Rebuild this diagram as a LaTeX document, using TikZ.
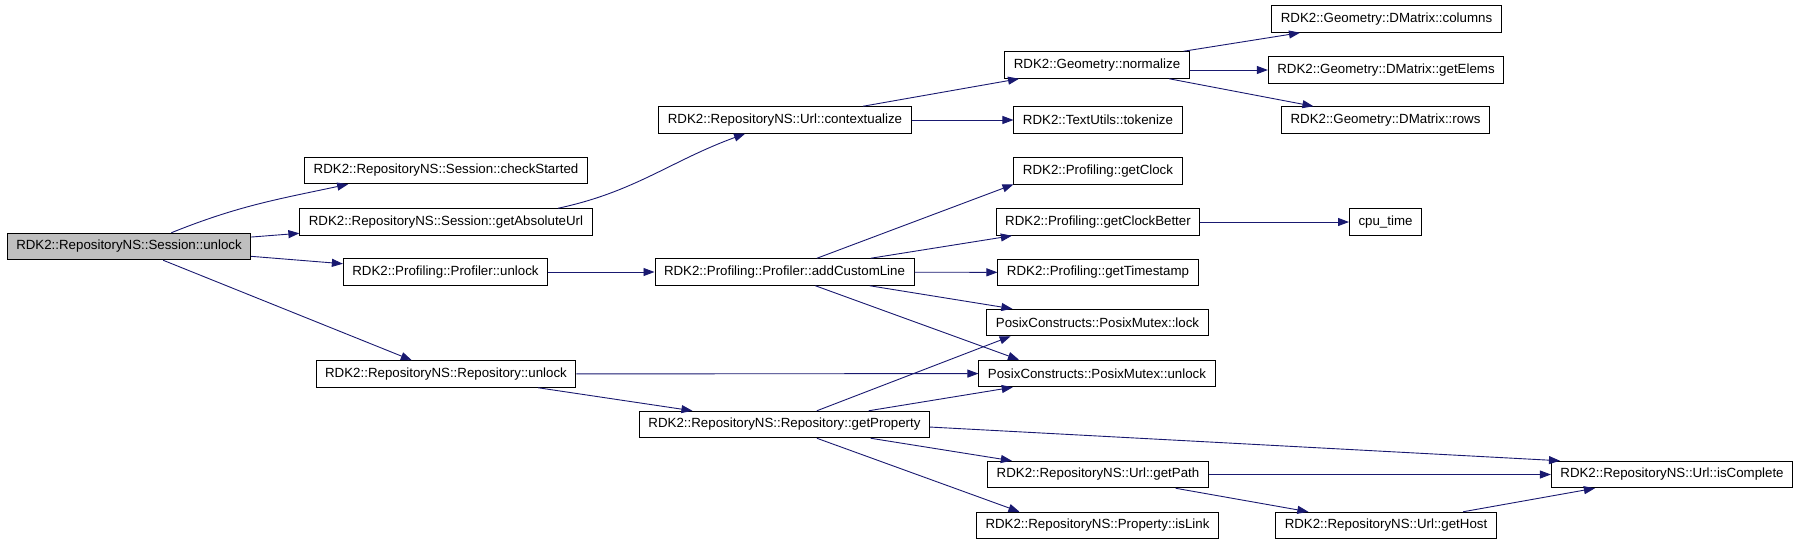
\documentclass[tikz,border=0pt]{standalone}
\usepackage{fontspec}
\setmainfont{Liberation Sans}
\usetikzlibrary{arrows.meta}

\definecolor{edgeblue}{RGB}{25,25,112}
\definecolor{nodegrey}{RGB}{191,191,191}

\tikzset{
    fn/.style={draw=black, line width=1pt, rectangle, inner xsep=9pt,
        minimum height=26.5pt, font=\fontsize{13.3}{16}\selectfont},
    call/.style={draw=edgeblue, line width=0.9pt,
        -{Triangle[length=11pt,width=8pt]}}
}

\begin{document}
\begin{tikzpicture}[x=1pt, y=1pt]

\useasboundingbox (0,0) rectangle (1797,-544);

% === caller ===
\node[fn, fill=nodegrey] (sessUnlock) at (129,-246.5) {RDK2::RepositoryNS::Session::unlock};

% === first level ===
\node[fn] (checkStarted) at (446,-170.5) {RDK2::RepositoryNS::Session::checkStarted};
\node[fn] (getAbsUrl) at (446,-222) {RDK2::RepositoryNS::Session::getAbsoluteUrl};
\node[fn] (profUnlock) at (445.5,-272) {RDK2::Profiling::Profiler::unlock};
\node[fn] (repoUnlock) at (446,-374) {RDK2::RepositoryNS::Repository::unlock};

% === second level ===
\node[fn] (contextualize) at (785,-120) {RDK2::RepositoryNS::Url::contextualize};
\node[fn] (addCustomLine) at (784.5,-272) {RDK2::Profiling::Profiler::addCustomLine};
\node[fn] (getProperty) at (784.5,-424.5) {RDK2::RepositoryNS::Repository::getProperty};

% === third level ===
\node[fn] (normalize) at (1097,-65) {RDK2::Geometry::normalize};
\node[fn] (tokenize) at (1098,-120) {RDK2::TextUtils::tokenize};
\node[fn] (getClock) at (1098,-171) {RDK2::Profiling::getClock};
\node[fn] (getClockBetter) at (1098,-222) {RDK2::Profiling::getClockBetter};
\node[fn] (getTimestamp) at (1098,-272.5) {RDK2::Profiling::getTimestamp};
\node[fn] (mutexLock) at (1097.5,-322.5) {PosixConstructs::PosixMutex::lock};
\node[fn] (mutexUnlock) at (1097,-373.5) {PosixConstructs::PosixMutex::unlock};
\node[fn] (getPath) at (1098,-474.5) {RDK2::RepositoryNS::Url::getPath};
\node[fn] (isLink) at (1097.5,-525.5) {RDK2::RepositoryNS::Property::isLink};

% === fourth level ===
\node[fn] (dmColumns) at (1386.5,-19) {RDK2::Geometry::DMatrix::columns};
\node[fn] (dmGetElems) at (1386,-70) {RDK2::Geometry::DMatrix::getElems};
\node[fn] (dmRows) at (1385.5,-120) {RDK2::Geometry::DMatrix::rows};
\node[fn] (cpuTime) at (1385.5,-222) {cpu\_time};
\node[fn] (getHost) at (1386,-525.5) {RDK2::RepositoryNS::Url::getHost};

% === fifth level ===
\node[fn] (isComplete) at (1672,-474.5) {RDK2::RepositoryNS::Url::isComplete};

% calls from the caller
\draw[call] (sessUnlock.18) to[out=22,in=192] (checkStarted.188.6);
\draw[call] (sessUnlock) -- (getAbsUrl);
\draw[call] (sessUnlock) -- (profUnlock);
\draw[call] (sessUnlock) -- (repoUnlock);

% calls from the first level
\draw[call] (getAbsUrl.7.6) to[out=12,in=200] (contextualize.199.4);
\draw[call] (profUnlock) -- (addCustomLine);
\draw[call] (repoUnlock) -- (mutexUnlock);
\draw[call] (repoUnlock) -- (getProperty);

% calls from the second level
\draw[call] (contextualize) -- (normalize);
\draw[call] (contextualize) -- (tokenize);
\draw[call] (addCustomLine.23) -- (getClock.189.5);
\draw[call] (addCustomLine) -- (getClockBetter);
\draw[call] (addCustomLine) -- (getTimestamp);
\draw[call] (addCustomLine) -- (mutexLock);
\draw[call] (addCustomLine.-24.5) -- (mutexUnlock.170.3);
\draw[call] (getProperty.23.8) -- (mutexLock.189.9);
\draw[call] (getProperty) -- (mutexUnlock);
\draw[call] (getProperty.-1.5) -- (isComplete.173.5);
\draw[call] (getProperty) -- (getPath);
\draw[call] (getProperty.-23.5) -- (isLink.170.3);

% calls from the third level
\draw[call] (normalize) -- (dmColumns);
\draw[call] (normalize.east |- dmGetElems.west) -- (dmGetElems.west);
\draw[call] (normalize) -- (dmRows);
\draw[call] (getClockBetter) -- (cpuTime);
\draw[call] (getPath) -- (isComplete);
\draw[call] (getPath) -- (getHost);

% calls from the fourth level
\draw[call] (getHost) -- (isComplete);

\end{tikzpicture}
\end{document}
